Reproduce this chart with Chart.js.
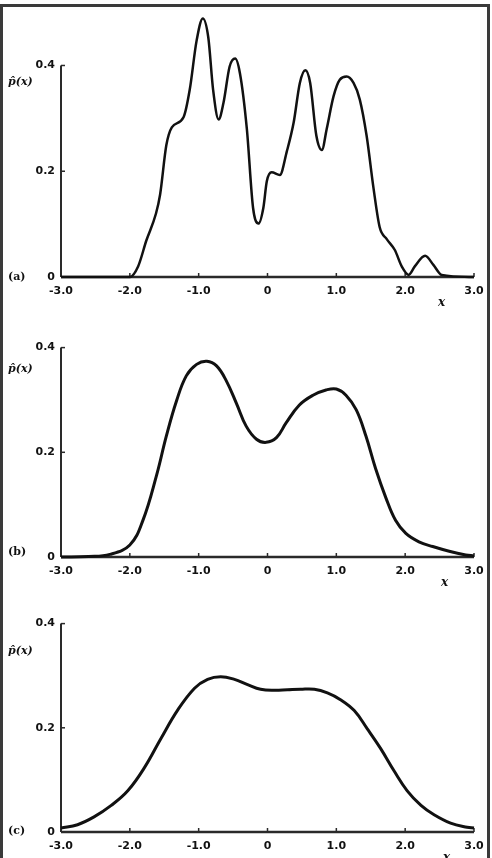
<!DOCTYPE html>
<html>
<head>
<meta charset="utf-8">
<script src="https://cdn.jsdelivr.net/npm/chart.js@4"></script>
<style>
  html, body { margin: 0; padding: 0; background: #fff; overflow: hidden; }
  body { width: 492px; height: 858px; position: relative; }
  .frame { position: absolute; left: 0; top: 4px; width: 484px; height: 900px;
           border: 3px solid #3a3a3a; border-bottom: none; }
  canvas { position: absolute; left: 0; }
  .lbl { position: absolute; font: bold 11px "DejaVu Serif", serif; color: #111; line-height: 12px; }
  .pl { font-style: italic; }
  .ax { font: italic bold 12px "DejaVu Serif", serif; }
</style>
</head>
<body>
<div class="frame"></div>
<canvas id="chartA" width="492" height="305" style="top:0px"></canvas>
<canvas id="chartB" width="492" height="250" style="top:335px"></canvas>
<canvas id="chartC" width="492" height="249" style="top:611px"></canvas>

<div class="lbl" style="left:8px;top:271px">(a)</div>
<div class="lbl pl" style="left:8px;top:76px">p̂(x)</div>
<div class="lbl ax" style="left:438px;top:295px">x</div>

<div class="lbl" style="left:8px;top:546px">(b)</div>
<div class="lbl pl" style="left:8px;top:363px">p̂(x)</div>
<div class="lbl ax" style="left:441px;top:575px">x</div>

<div class="lbl" style="left:8px;top:825px">(c)</div>
<div class="lbl pl" style="left:8px;top:645px">p̂(x)</div>
<div class="lbl ax" style="left:443px;top:850px">x</div>

<script>
// tick values and labels
const xTickValues = [-3, -2, -1, 0, 1, 2, 3];
const xTickLabels = ['-3.0', '-2.0', '-1.0', '0', '1.0', '2.0', '3.0'];
const yTickValues = [0, 0.2, 0.4];
const yTickLabels = ['0', '0.2', '0.4'];

// (a) rough estimate
const xA = [-3.0, -2.0, -1.88, -1.76, -1.62, -1.56, -1.47, -1.39, -1.22, -1.13, -1.03, -0.94, -0.86,
            -0.79, -0.71, -0.64, -0.55, -0.47, -0.40, -0.30, -0.21, -0.13, -0.06, -0.01, 0.06, 0.18,
            0.28, 0.38, 0.47, 0.55, 0.62, 0.71, 0.79, 0.86, 0.96, 1.05, 1.15, 1.25, 1.34, 1.44, 1.54,
            1.63, 1.73, 1.85, 1.95, 2.05, 2.14, 2.29, 2.41, 2.53, 3.0];
const yA = [0, 0, 0.02, 0.069, 0.12, 0.156, 0.249, 0.283, 0.302, 0.354, 0.447, 0.489, 0.453,
            0.354, 0.298, 0.329, 0.398, 0.413, 0.385, 0.280, 0.131, 0.101, 0.131, 0.181, 0.198, 0.193,
            0.237, 0.292, 0.367, 0.391, 0.367, 0.267, 0.240, 0.280, 0.342, 0.373, 0.379, 0.367, 0.336, 0.267, 0.168,
            0.094, 0.072, 0.051, 0.020, 0.004, 0.020, 0.040, 0.023, 0.004, 0];

// (b) smoother estimate
const xB = [-3.0, -2.6, -2.29, -2.0, -1.81, -1.61, -1.47, -1.32, -1.18, -1.03, -0.88, -0.74, -0.60,
            -0.45, -0.31, -0.16, -0.02, 0.13, 0.27, 0.46, 0.66, 0.85, 1.0, 1.14, 1.29, 1.43, 1.57,
            1.72, 1.86, 2.01, 2.20, 2.40, 2.64, 2.88, 3.0];
const yB = [0, 0.001, 0.005, 0.023, 0.070, 0.157, 0.231, 0.299, 0.346, 0.368, 0.374, 0.365, 0.337,
            0.293, 0.250, 0.225, 0.219, 0.228, 0.256, 0.290, 0.309, 0.319, 0.321, 0.309, 0.281, 0.231, 0.169,
            0.113, 0.070, 0.045, 0.029, 0.020, 0.011, 0.004, 0.002];

// (c) smoothest estimate
const xC = [-3.0, -2.76, -2.52, -2.27, -2.03, -1.79, -1.55, -1.31, -1.06, -0.87, -0.68, -0.48, -0.29,
            -0.10, 0.10, 0.29, 0.48, 0.68, 0.87, 1.06, 1.26, 1.45, 1.64, 1.84, 2.03, 2.23, 2.42,
            2.66, 2.90, 3.0];
const yC = [0.0075, 0.014, 0.029, 0.051, 0.079, 0.123, 0.179, 0.233, 0.276, 0.293, 0.298, 0.293, 0.283,
            0.274, 0.272, 0.273, 0.274, 0.274, 0.267, 0.254, 0.233, 0.198, 0.161, 0.117, 0.079, 0.051, 0.033,
            0.017, 0.009, 0.0075];

const tickFont = { family: 'DejaVu Sans', size: 11, weight: 'bold' };

// axis lines + small tick marks, stopping at the top tick like the original
const axesPlugin = {
    id: 'axes',
    beforeDatasetsDraw(chart) {
        const { ctx, scales: { x, y } } = chart;
        const xl = x.getPixelForValue(xTickValues[0]);
        const xr = x.getPixelForValue(xTickValues[xTickValues.length - 1]);
        const yb = y.getPixelForValue(0);
        const yt = y.getPixelForValue(yTickValues[yTickValues.length - 1]);
        ctx.save();
        ctx.strokeStyle = '#2a2a2a';
        ctx.lineWidth = 2.5;
        ctx.beginPath();
        ctx.moveTo(xl, yb);
        ctx.lineTo(xr, yb);
        ctx.stroke();
        ctx.lineWidth = 2;
        ctx.beginPath();
        ctx.moveTo(xl, yb);
        ctx.lineTo(xl, yt);
        ctx.stroke();
        ctx.lineWidth = 1.5;
        xTickValues.forEach(v => {
            const px = x.getPixelForValue(v);
            ctx.beginPath();
            ctx.moveTo(px, yb);
            ctx.lineTo(px, yb - 4);
            ctx.stroke();
        });
        yTickValues.forEach(v => {
            const py = y.getPixelForValue(v);
            ctx.beginPath();
            ctx.moveTo(xl, py);
            ctx.lineTo(xl + 4, py);
            ctx.stroke();
        });
        ctx.restore();
    }
};

function makeChart(id, xs, ys, yMax, lineWidth, mode) {
    const ctx = document.getElementById(id).getContext('2d');
    return new Chart(ctx, {
        type: 'line',
        data: {
            datasets: [{
                data: xs.map((v, i) => ({ x: v, y: ys[i] })),
                borderColor: '#111',
                borderWidth: lineWidth,
                pointRadius: 0,
                tension: 0.4,
                cubicInterpolationMode: mode,
                fill: false,
                clip: false
            }]
        },
        options: {
            responsive: false,
            animation: false,
            layout: { padding: { top: 8, right: 18, left: 0, bottom: 0 } },
            plugins: { legend: { display: false }, tooltip: { enabled: false } },
            scales: {
                x: {
                    type: 'linear',
                    min: -3,
                    max: 3,
                    afterBuildTicks: s => { s.ticks = xTickValues.map(v => ({ value: v })); },
                    afterFit: s => { s.height = 28; },
                    grid: { display: false, drawTicks: false },
                    border: { display: false },
                    ticks: {
                        padding: 8,
                        color: '#111',
                        font: tickFont,
                        maxRotation: 0,
                        autoSkip: false,
                        callback: v => xTickLabels[xTickValues.indexOf(v)]
                    }
                },
                y: {
                    min: 0,
                    max: yMax,
                    afterBuildTicks: s => { s.ticks = yTickValues.map(v => ({ value: v })); },
                    afterFit: s => { s.width = 61; },
                    grid: { display: false, drawTicks: false },
                    border: { display: false },
                    ticks: {
                        padding: 6,
                        color: '#111',
                        font: tickFont,
                        callback: v => yTickLabels[yTickValues.indexOf(v)]
                    }
                }
            }
        },
        plugins: [axesPlugin]
    });
}

makeChart('chartA', xA, yA, 0.5, 2.5, 'monotone');
makeChart('chartB', xB, yB, 0.4, 3, 'default');
makeChart('chartC', xC, yC, 0.4, 3, 'default');
</script>
</body>
</html>
